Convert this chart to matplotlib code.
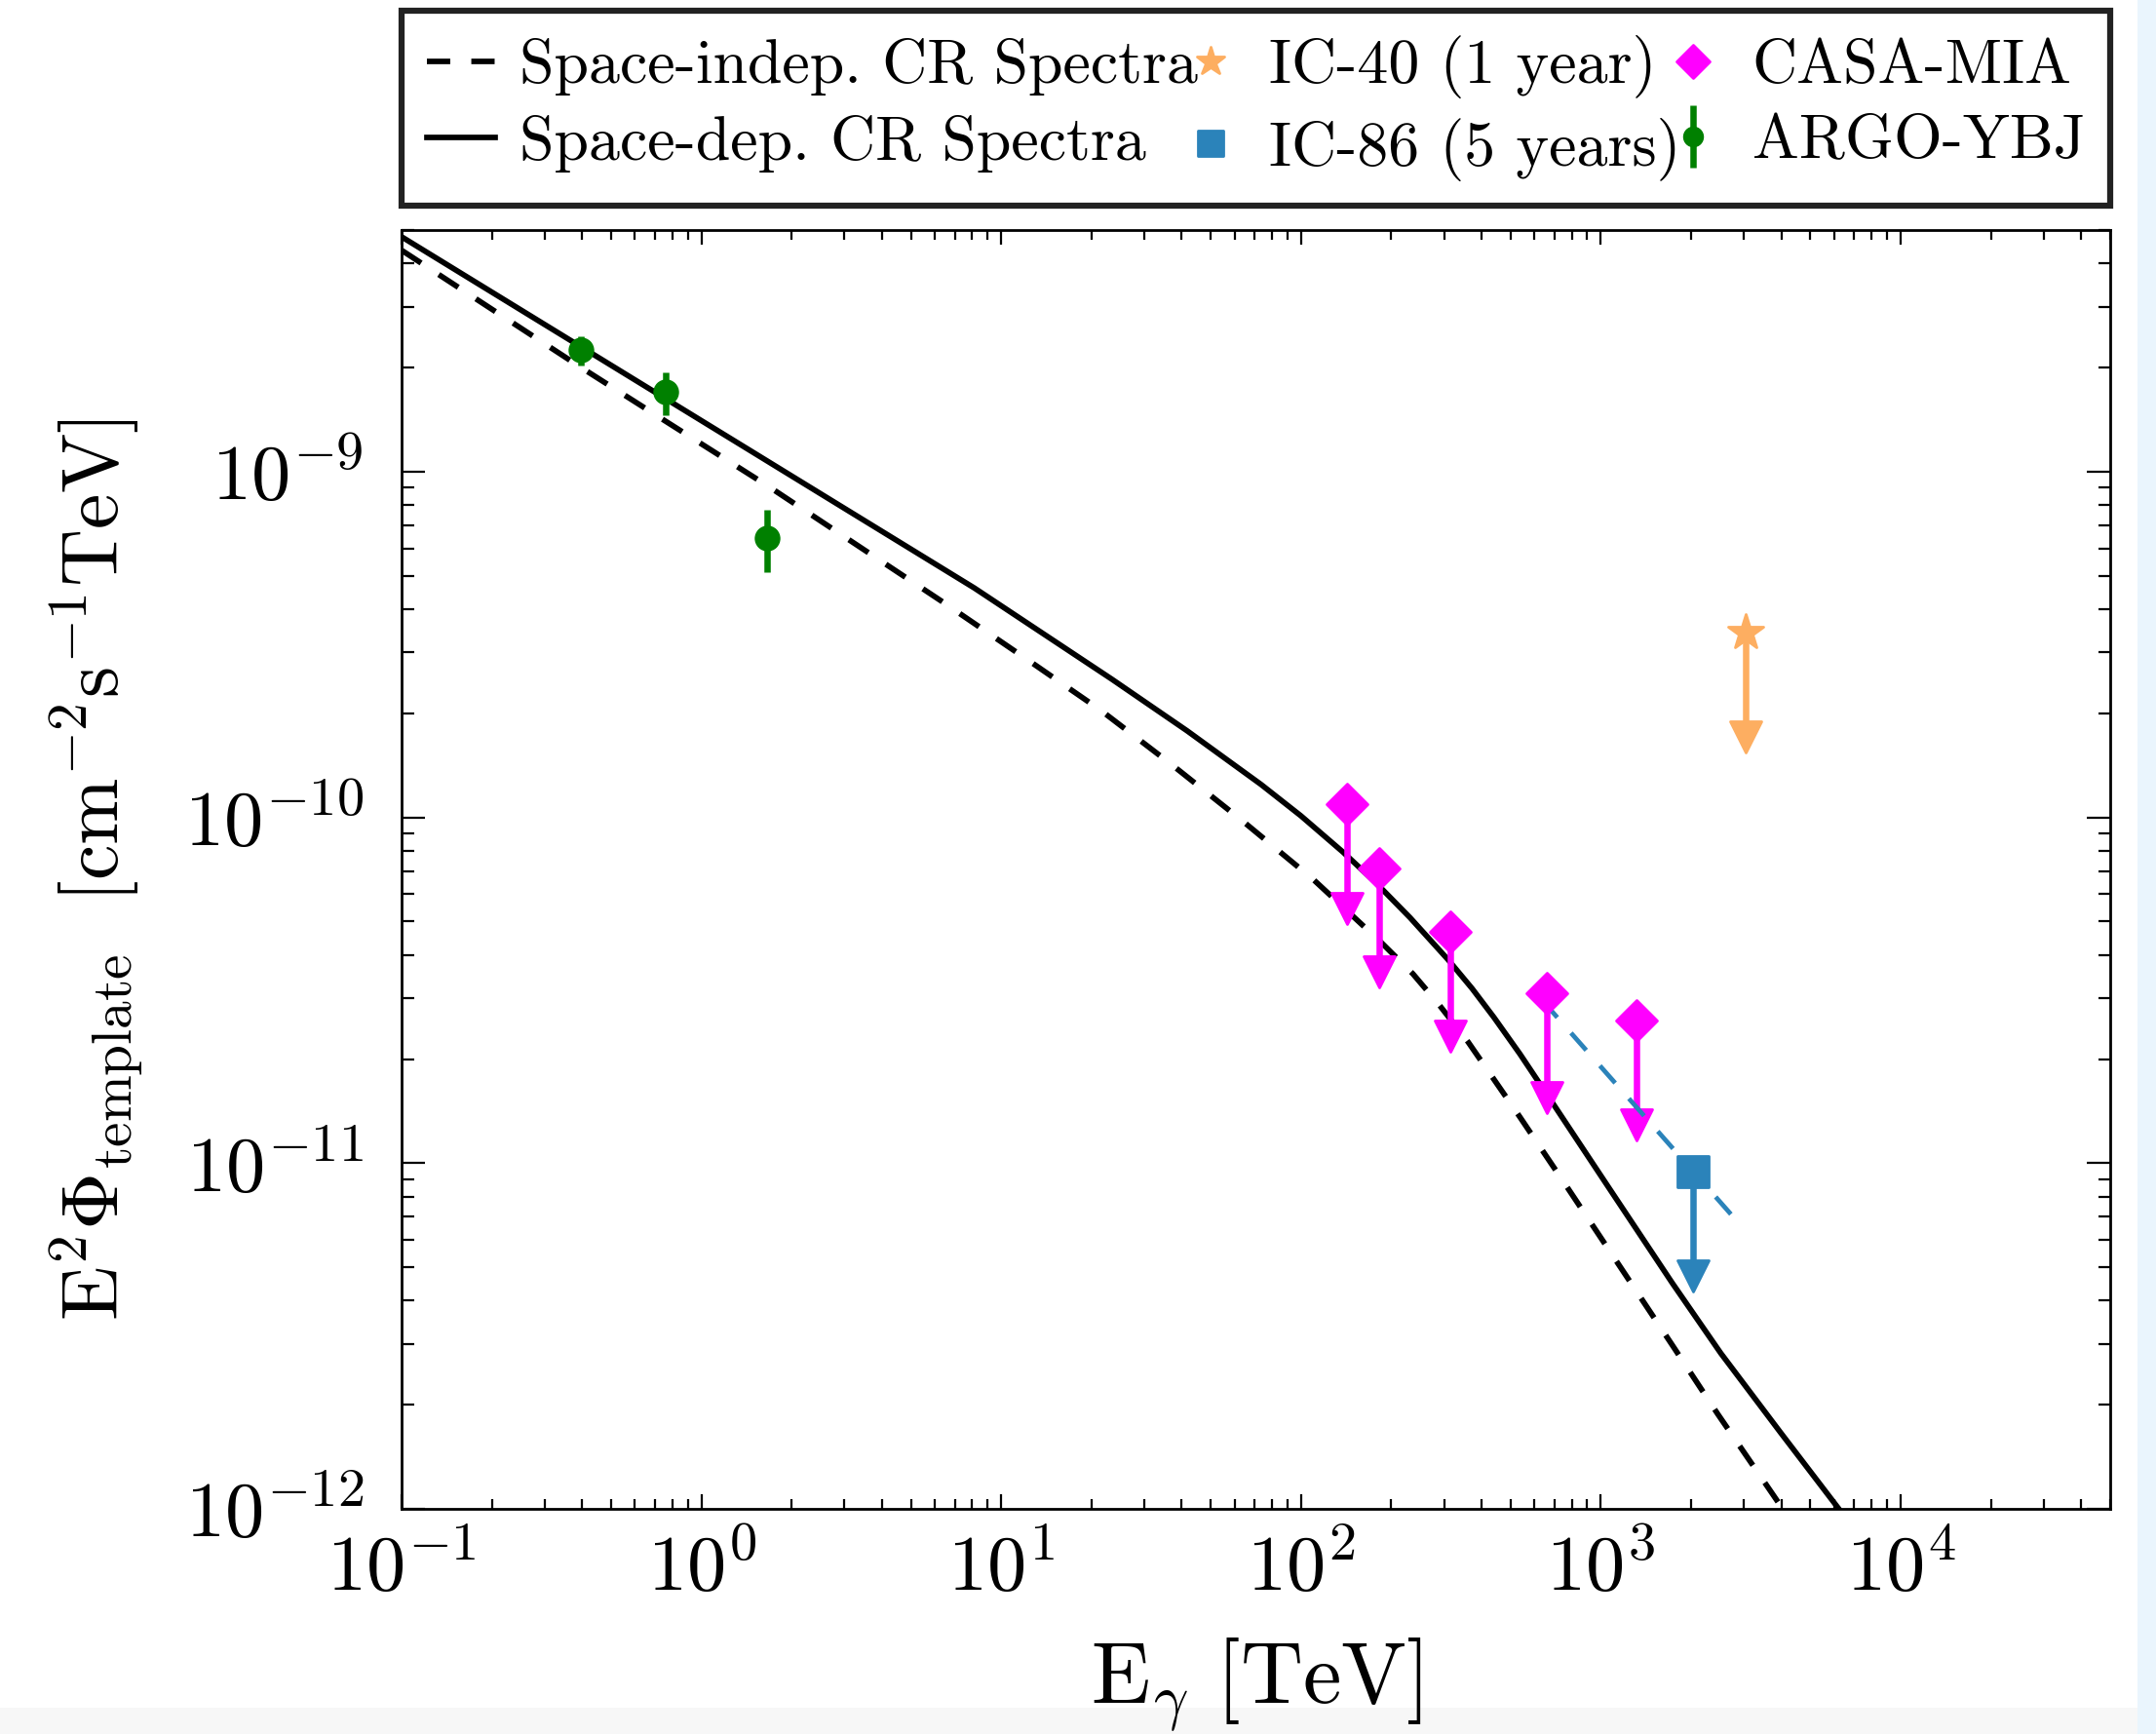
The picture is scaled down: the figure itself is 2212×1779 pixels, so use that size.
import numpy as np
import matplotlib

matplotlib.use("Agg")
import matplotlib.pyplot as plt
from matplotlib import ticker
from matplotlib.markers import MarkerStyle
from matplotlib.patches import Rectangle

# E^2 Phi of the template [cm^-2 s^-1 TeV] against E_gamma [TeV]
space_dep_E = [0.1, 8.13, 23.4, 41.7, 73.6, 100, 138, 178, 231, 310, 372, 440, 537,
               671, 1052, 1734, 2512, 3981, 6166, 7943]
space_dep_F = [4.78e-9, 4.61e-10, 2.51e-10, 1.78e-10, 1.245e-10, 1.01e-10, 7.94e-11,
               6.46e-11, 5.13e-11, 3.87e-11, 3.20e-11, 2.64e-11, 2.07e-11, 1.55e-11,
               8.61e-12, 4.49e-12, 2.82e-12, 1.66e-12, 1.01e-12, 7.6e-13]

space_indep_E = [0.1, 0.394, 0.740, 1.69, 6.46, 12.3, 21.5, 37.1, 63.8, 110, 184,
                 236, 288, 361, 537, 780, 1161, 1734, 2455, 3750, 5010]
space_indep_F = [4.37e-9, 2.01e-9, 1.42e-9, 9.02e-10, 4.17e-10, 2.85e-10, 2.04e-10,
                 1.42e-10, 9.77e-11, 6.61e-11, 4.37e-11, 3.53e-11, 2.88e-11, 2.24e-11,
                 1.36e-11, 8.41e-12, 5.01e-12, 2.97e-12, 1.88e-12, 1.10e-12, 7.6e-13]

# measurements
argo_E = [0.396, 0.76, 1.66]
argo_F = [2.25e-9, 1.70e-9, 6.44e-10]
argo_err = [0.22e-9, 0.24e-9, 1.33e-10]

# upper limits
casa_E = [142, 182, 315, 660, 1315]
casa_F = [1.09e-10, 7.14e-11, 4.66e-11, 3.10e-11, 2.58e-11]
ic40_E = [3045]
ic40_F = [3.43e-10]
ic86_E = [2037]
ic86_F = [9.44e-12]
ic86_line_E = [637, 2750]
ic86_line_F = [2.96e-11, 7.03e-12]

ARROW_FRAC = 0.5  # arrow tip sits at this fraction of the limit

C_IC40 = "#fdae61"
C_IC86 = "#2b83ba"
C_CASA = "#ff00ff"
C_ARGO = "#008000"

plt.rcParams.update({
    "font.family": "serif",
    "font.serif": ["cmr10"],
    "mathtext.fontset": "cm",
    "axes.unicode_minus": False,
})

fig = plt.figure(figsize=(22.12, 17.79), dpi=100)
W, H = 2212.0, 1779.0
ax = fig.add_axes([412 / W, 1 - 1548 / H, (2165 - 412) / W, (1548 - 236) / H])

# light screen edges around the figure
fig.add_artist(Rectangle((2193 / W, 0), 1, 1, transform=fig.transFigure,
                         color="#eaf5fd", lw=0, zorder=-5))
fig.add_artist(Rectangle((0, 0), 2193 / W, (H - 1752) / H, transform=fig.transFigure,
                         color="#f7f7f7", lw=0, zorder=-5))


def rounded(m):
    return MarkerStyle(m, joinstyle="round")


def limit_arrows(E, F, color):
    F = np.asarray(F)
    tips = F * ARROW_FRAC
    ax.vlines(E, tips, F, color=color, lw=4.7, zorder=4)
    ax.plot(E, tips, ls="none", marker=rounded("v"), ms=23, mew=2,
            color=color, mec=color, zorder=4)


ax.plot(space_indep_E, space_indep_F, color="black", lw=4.1, dashes=(4.2, 3.8),
        label="Space-indep. CR Spectra", zorder=2)
ax.plot(space_dep_E, space_dep_F, color="black", lw=4.1,
        label="Space-dep. CR Spectra", zorder=2)

limit_arrows(ic40_E, ic40_F, C_IC40)
ax.plot(ic40_E, ic40_F, ls="none", marker=rounded("*"), ms=27, mew=2, color=C_IC40,
        mec=C_IC40, label="IC-40 (1 year)", zorder=5)

limit_arrows(casa_E, casa_F, C_CASA)
ax.plot(ic86_line_E, ic86_line_F, color=C_IC86, lw=3.4, dashes=(5, 4.5), zorder=4)
limit_arrows(ic86_E, ic86_F, C_IC86)
ax.plot(ic86_E, ic86_F, ls="none", marker=rounded("s"), ms=23, mew=2, color=C_IC86,
        mec=C_IC86, label="IC-86 (5 years)", zorder=5)
ax.plot(casa_E, casa_F, ls="none", marker=rounded("D"), ms=21.5, mew=2, color=C_CASA,
        mec=C_CASA, label="CASA-MIA", zorder=5)

ax.errorbar(argo_E, argo_F, yerr=argo_err, fmt="o", ms=18, color=C_ARGO,
            elinewidth=4.7, capsize=0, label="ARGO-YBJ", zorder=6)

ax.set_xscale("log")
ax.set_yscale("log")
ax.set_xlim(0.1, 5e4)
ax.set_ylim(1e-12, 5e-9)

decade = ticker.FuncFormatter(lambda v, _: r"$10^{%d}$" % int(round(np.log10(v))))
for axis in (ax.xaxis, ax.yaxis):
    axis.set_major_locator(ticker.LogLocator(base=10, numticks=20))
    axis.set_minor_locator(ticker.LogLocator(base=10, subs=np.arange(2, 10), numticks=100))
    axis.set_major_formatter(decade)
    axis.set_minor_formatter(ticker.NullFormatter())

ax.tick_params(which="both", direction="in", top=True, right=True, width=1.6)
ax.tick_params(axis="x", which="major", length=11, pad=18, labelsize=58)
ax.tick_params(axis="x", which="minor", length=7)
ax.tick_params(axis="y", which="major", length=17, pad=28, labelsize=58)
ax.tick_params(axis="y", which="minor", length=9)
for sp in ax.spines.values():
    sp.set_linewidth(2.0)

ax.set_xlabel(r"$\mathrm{E_\gamma\ [TeV]}$", fontsize=64, labelpad=22)
ax.set_ylabel(r"$\mathrm{E^2\Phi_{template}\ \ [cm^{-2}s^{-1}TeV]}$", fontsize=59)
ax.yaxis.set_label_coords(-0.15, 0.5)

leg = ax.legend(loc="lower left", bbox_to_anchor=(0, 1.019, 1, 0.16), mode="expand",
                ncol=3, fontsize=46, handlelength=1.1, handletextpad=0.4,
                borderpad=0.4, labelspacing=0.3, markerscale=0.8,
                fancybox=False, framealpha=1, borderaxespad=0)
leg.get_frame().set_edgecolor("#222222")
leg.get_frame().set_linewidth(4.5)

fig.savefig("out.png", dpi=100)
